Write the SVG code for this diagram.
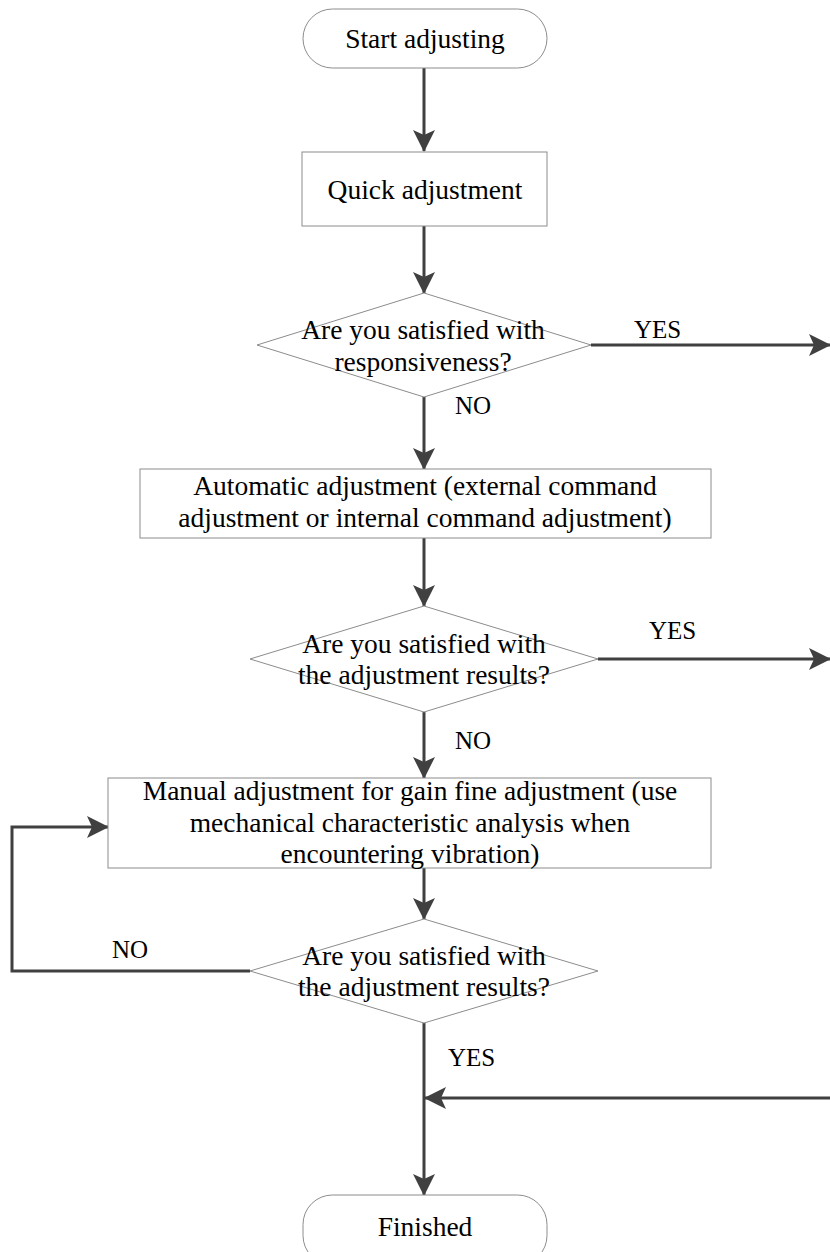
<svg xmlns="http://www.w3.org/2000/svg" width="830" height="1252" viewBox="0 0 830 1252">
<style>
.shape{fill:#fff;stroke:#8c8c8c;stroke-width:1}
.t{font-family:"Liberation Serif","Times New Roman",serif;font-size:27.5px;fill:#000;text-anchor:middle}
.lbl{font-family:"Liberation Serif","Times New Roman",serif;font-size:25px;fill:#000}
.c{fill:none;stroke:#404040;stroke-width:3}
</style>
<defs>
<marker id="ah" viewBox="0 0 22 22" refX="21" refY="11" markerWidth="22" markerHeight="22" markerUnits="userSpaceOnUse" orient="auto">
<path d="M0,0 L22,11 L0,22 L5,11 Z" fill="#404040"/>
</marker>
</defs>
<rect width="830" height="1252" fill="#fff"/>
<g id="connectors">
<line class="c" x1="424" y1="68" x2="424" y2="151" marker-end="url(#ah)"/>
<line class="c" x1="424" y1="226" x2="424" y2="293" marker-end="url(#ah)"/>
<line class="c" x1="591" y1="345" x2="830" y2="345" marker-end="url(#ah)"/>
<line class="c" x1="424" y1="397" x2="424" y2="469" marker-end="url(#ah)"/>
<line class="c" x1="424" y1="538" x2="424" y2="606" marker-end="url(#ah)"/>
<line class="c" x1="598" y1="659" x2="830" y2="659" marker-end="url(#ah)"/>
<line class="c" x1="424" y1="712" x2="424" y2="778" marker-end="url(#ah)"/>
<line class="c" x1="424" y1="868" x2="424" y2="919" marker-end="url(#ah)"/>
<polyline class="c" points="250,971 12,971 12,827 108,827" marker-end="url(#ah)"/>
<line class="c" x1="424" y1="1023" x2="424" y2="1195" marker-end="url(#ah)"/>
<line class="c" x1="830" y1="1098" x2="425" y2="1098" marker-end="url(#ah)"/>
<text class="lbl" x="634" y="338">YES</text>
<text class="lbl" x="455" y="414">NO</text>
<text class="lbl" x="649" y="639">YES</text>
<text class="lbl" x="455" y="749">NO</text>
<text class="lbl" x="112" y="958">NO</text>
<text class="lbl" x="448" y="1066">YES</text>
</g>
<g id="start">
<rect class="shape" x="303" y="9" width="244" height="59" rx="29.5" ry="29.5"/>
<text class="t" x="425" y="48">Start adjusting</text>
</g>
<g id="quick">
<rect class="shape" x="302" y="152" width="245" height="74"/>
<text class="t" x="425" y="199">Quick adjustment</text>
</g>
<g id="dec1">
<polygon class="shape" points="424,293 591,345 424,397 257,345"/>
<text class="t" x="423" y="339">Are you satisfied with</text>
<text class="t" x="423" y="371">responsiveness?</text>
</g>
<g id="auto">
<rect class="shape" x="140" y="469" width="571" height="69"/>
<text class="t" x="425" y="495">Automatic adjustment (external command</text>
<text class="t" x="425" y="527">adjustment or internal command adjustment)</text>
</g>
<g id="dec2">
<polygon class="shape" points="424,606 598,659 424,712 250,659"/>
<text class="t" x="424" y="653">Are you satisfied with</text>
<text class="t" x="424" y="684">the adjustment results?</text>
</g>
<g id="manual">
<rect class="shape" x="108" y="778" width="603" height="90"/>
<text class="t" x="410" y="800">Manual adjustment for gain fine adjustment (use</text>
<text class="t" x="410" y="832">mechanical characteristic analysis when</text>
<text class="t" x="410" y="863">encountering vibration)</text>
</g>
<g id="dec3">
<polygon class="shape" points="424,919 598,971 424,1023 250,971"/>
<text class="t" x="424" y="965">Are you satisfied with</text>
<text class="t" x="424" y="996">the adjustment results?</text>
</g>
<g id="finish">
<rect class="shape" x="303" y="1195" width="244" height="70" rx="29.5" ry="29.5"/>
<text class="t" x="425" y="1236">Finished</text>
</g>
</svg>
